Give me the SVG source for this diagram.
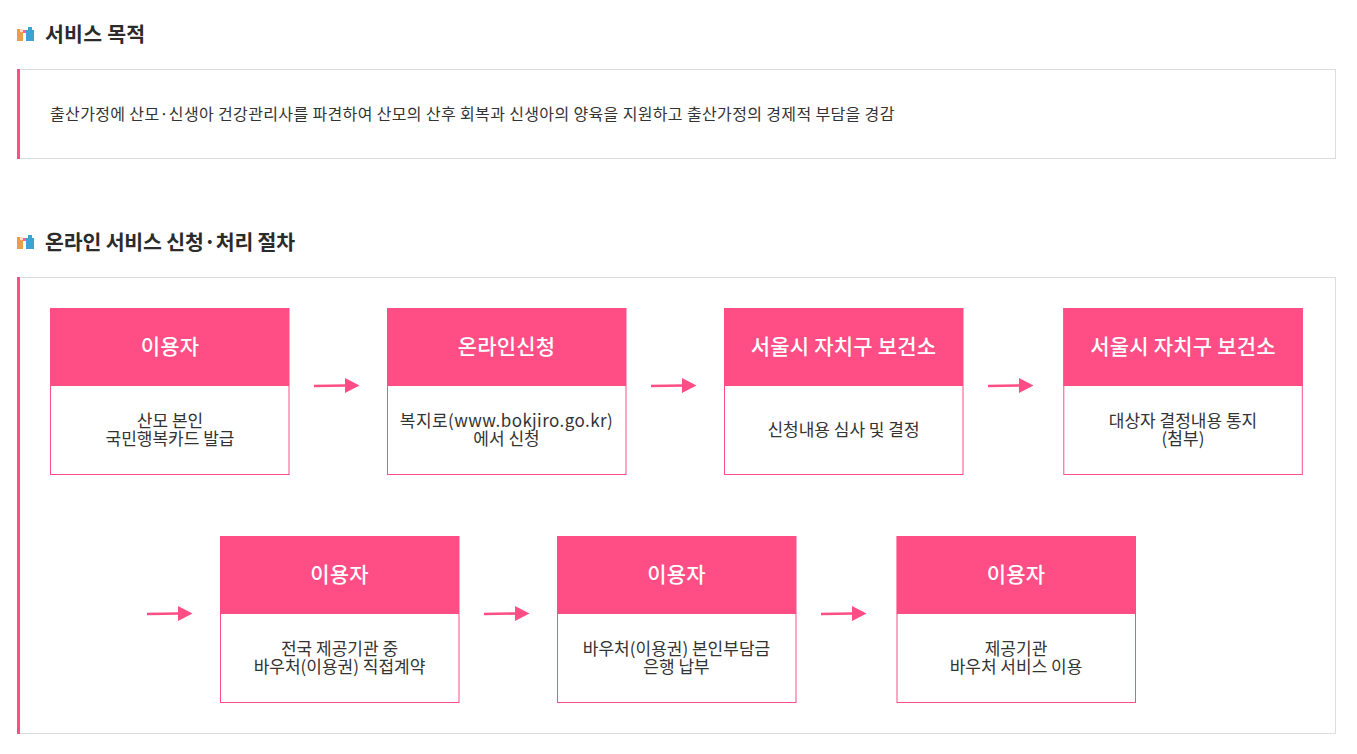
<svg xmlns="http://www.w3.org/2000/svg" width="1357" height="754" viewBox="0 0 1357 754">
<style>
text{font-family:"Noto Sans CJK KR","Noto Sans",sans-serif}
.h{font-size:20.500px;font-weight:700;fill:#2b2b2b;letter-spacing:-.15px}
.b{font-size:16px;fill:#333;letter-spacing:.36px}
.ht{font-size:21px;font-weight:500;fill:#fff;text-anchor:middle;letter-spacing:.2px}
.bt{font-size:17px;fill:#333;text-anchor:middle}
.panel{fill:#fff;stroke:#dcdcdc}
.accent{fill:#ff4d85}
.card{fill:#fff;stroke:#ff4d85}
.arr{fill:none;stroke:#ff4d85;stroke-width:2.500}
.ah{fill:#ff4d85}
</style>
<defs>
<g id="icon"><rect x="0" y="2" width="6" height="12" fill="#e9a04e"/><rect x="3" y="2" width="3" height="3" fill="#ffd9d0"/><rect x="6" y="3" width="3" height="3" fill="#ff5fa0"/><rect x="9" y="3" width="8" height="11" fill="#3fa3d1"/><rect x="11" y="0" width="4" height="3" fill="#3fa3d1"/></g>
</defs>
<rect width="1357" height="754" fill="#fff"/>
<g id="section1">
<use href="#icon" x="17" y="27"/>
<text class="h" x="45" y="42" style="letter-spacing:.25px">서비스 목적</text>
<rect class="panel" x="17.500" y="69.500" width="1318" height="89"/>
<rect class="accent" x="17" y="69" width="3" height="90"/>
<text class="b" x="50" y="120">출산가정에 산모·신생아 건강관리사를 파견하여 산모의 산후 회복과 신생아의 양육을 지원하고 출산가정의 경제적 부담을 경감</text>
</g>
<g id="section2">
<use href="#icon" x="17" y="235"/>
<text class="h" x="45" y="250">온라인 서비스 신청·처리 절차</text>
<rect class="panel" x="17.500" y="277.500" width="1318" height="456"/>
<rect class="accent" x="17" y="277" width="3" height="457"/>
</g>
<g id="n1"><rect class="card" x="50.500" y="308.500" width="238.500" height="166"/><rect class="accent" x="50" y="308" width="239" height="78"/><text class="ht" x="170" y="354">이용자</text><text class="bt" x="170" y="427">산모 본인</text><text class="bt" x="170" y="445">국민행복카드 발급</text></g>
<g id="n2"><rect class="card" x="387.500" y="308.500" width="238.500" height="166"/><rect class="accent" x="387" y="308" width="239" height="78"/><text class="ht" x="506.500" y="354">온라인신청</text><text class="bt" x="506.500" y="427" style="letter-spacing:.42px">복지로(www.bokjiro.go.kr)</text><text class="bt" x="506.500" y="445">에서 신청</text></g>
<g id="n3"><rect class="card" x="724.500" y="308.500" width="238.500" height="166"/><rect class="accent" x="724" y="308" width="239" height="78"/><text class="ht" x="843.500" y="354">서울시 자치구 보건소</text><text class="bt" x="843.500" y="436">신청내용 심사 및 결정</text></g>
<g id="n4"><rect class="card" x="1063.800" y="308.500" width="238.500" height="166"/><rect class="accent" x="1063.300" y="308" width="239.500" height="78"/><text class="ht" x="1183" y="354">서울시 자치구 보건소</text><text class="bt" x="1183" y="427">대상자 결정내용 통지</text><text class="bt" x="1183" y="445">(첨부)</text></g>
<g id="n5"><rect class="card" x="220.500" y="536.500" width="238.500" height="166"/><rect class="accent" x="220" y="536" width="239" height="78"/><text class="ht" x="339.500" y="582">이용자</text><text class="bt" x="339.500" y="655">전국 제공기관 중</text><text class="bt" x="339.500" y="673">바우처(이용권) 직접계약</text></g>
<g id="n6"><rect class="card" x="557.500" y="536.500" width="238.500" height="166"/><rect class="accent" x="557" y="536" width="239" height="78"/><text class="ht" x="676.500" y="582">이용자</text><text class="bt" x="676.500" y="655">바우처(이용권) 본인부담금</text><text class="bt" x="676.500" y="673">은행 납부</text></g>
<g id="n7"><rect class="card" x="897" y="536.500" width="238.500" height="166"/><rect class="accent" x="896.800" y="536" width="239.200" height="78"/><text class="ht" x="1016" y="582">이용자</text><text class="bt" x="1016" y="655">제공기관</text><text class="bt" x="1016" y="673">바우처 서비스 이용</text></g>
<g id="connectors">
<g id="a1"><path class="arr" d="M314 386L346 385.500"/><path class="ah" d="M345 378L359.500 385.500L345 393Z"/></g>
<g id="a2"><path class="arr" d="M651 386L683 385.500"/><path class="ah" d="M682 378L696.500 385.500L682 393Z"/></g>
<g id="a3"><path class="arr" d="M988 386L1020 385.500"/><path class="ah" d="M1019 378L1033.500 385.500L1019 393Z"/></g>
<g id="a4"><path class="arr" d="M147 614L179 613.500"/><path class="ah" d="M178 606L192.500 613.500L178 621Z"/></g>
<g id="a5"><path class="arr" d="M484 614L516 613.500"/><path class="ah" d="M515 606L529.500 613.500L515 621Z"/></g>
<g id="a6"><path class="arr" d="M821 614L853 613.500"/><path class="ah" d="M852 606L866.500 613.500L852 621Z"/></g>
</g>
</svg>
